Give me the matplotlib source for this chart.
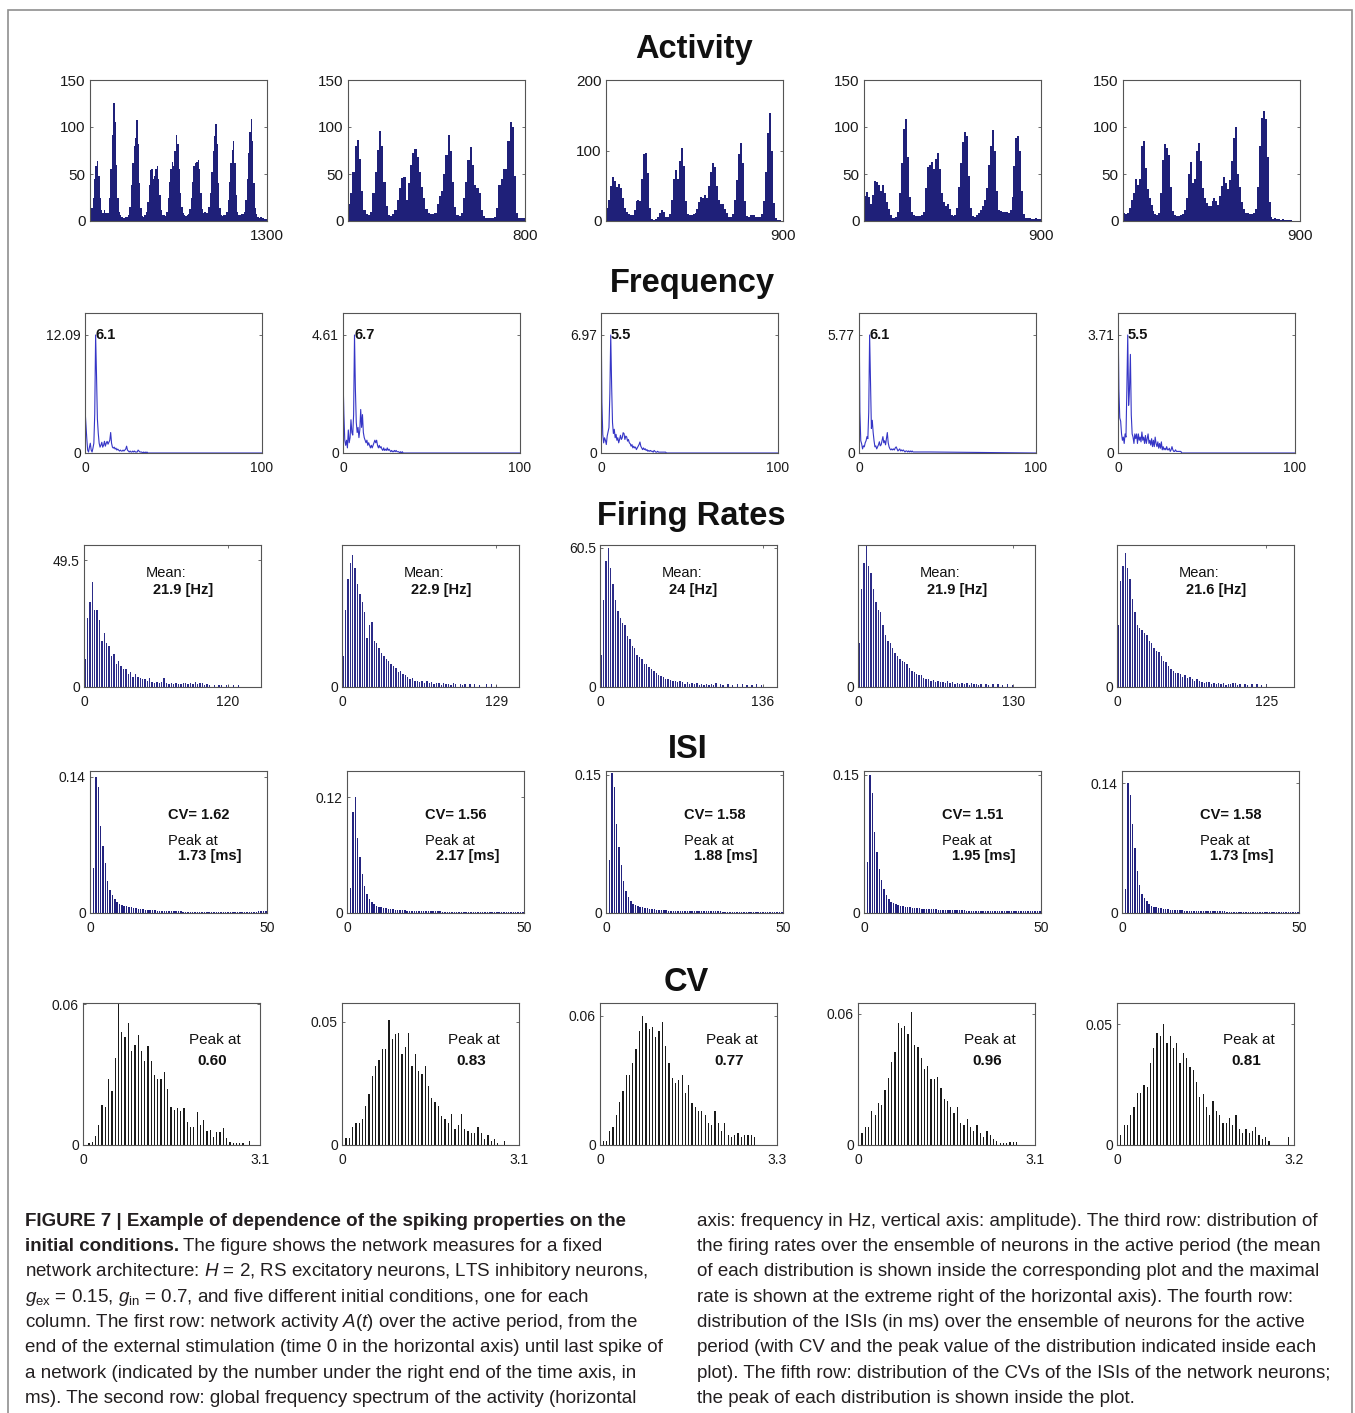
import numpy as np
import matplotlib
matplotlib.use("Agg")
import matplotlib.pyplot as plt
from matplotlib.patches import Rectangle

W, H = 1355, 1413
plt.rcParams['font.family'] = ['Liberation Sans', 'DejaVu Sans']
plt.rcParams['mathtext.fontset'] = 'custom'
plt.rcParams['mathtext.rm'] = 'Liberation Sans'
plt.rcParams['mathtext.it'] = 'Liberation Sans:italic'
plt.rcParams['mathtext.bf'] = 'Liberation Sans:bold'

# ---------------- DATA ----------------
TITLES = ["Activity", "Frequency", "Firing Rates", "ISI", "CV"]

# Row 1: network activity (10 ms bins)
ACT_XMAX = [1300, 800, 900, 900, 900]
ACT_YTICKS = [[0, 50, 100, 150], [0, 50, 100, 150], [0, 100, 200], [0, 50, 100, 150], [0, 50, 100, 150]]
act1 = [13, 14, 25, 45, 58, 64, 48, 25, 12, 9,
        12, 8, 9, 8, 25, 55, 92, 125, 105, 60,
        25, 10, 6, 4, 3, 3, 4, 4, 6, 15,
        38, 62, 80, 88, 107, 82, 40, 14, 5, 4,
        6, 10, 20, 38, 54, 55, 45, 48, 55, 58,
        45, 28, 12, 6, 6, 5, 10, 24, 42, 55,
        63, 58, 75, 92, 82, 55, 30, 15, 9, 6,
        5, 6, 7, 13, 25, 42, 58, 62, 63, 65,
        55, 30, 13, 9, 10, 8, 9, 15, 30, 52,
        75, 90, 103, 82, 40, 14, 6, 5, 6, 6,
        10, 22, 42, 62, 76, 85, 62, 28, 10, 6,
        6, 7, 7, 10, 22, 45, 72, 95, 108, 85,
        40, 14, 7, 4, 3, 4, 3, 3, 2, 2]
act2 = [18, 30, 52, 80, 86, 66, 32, 12, 7, 6,
        10, 30, 52, 76, 96, 80, 42, 16, 6, 5,
        7, 12, 22, 35, 46, 47, 22, 40, 60, 72,
        77, 68, 52, 36, 24, 13, 8, 7, 7, 9,
        18, 27, 32, 50, 70, 92, 75, 42, 15, 6,
        5, 8, 25, 42, 65, 79, 60, 38, 35, 30,
        12, 5, 3, 3, 3, 3, 4, 14, 38, 45,
        55, 55, 85, 105, 100, 48, 8, 3, 3, 3]
act3 = [18, 30, 50, 63, 57, 48, 53, 47, 33, 18,
        13, 10, 9, 8, 16, 28, 30, 28, 60, 95,
        97, 68, 18, 3, 1, 3, 6, 11, 15, 13,
        6, 6, 10, 30, 60, 73, 60, 85, 104, 78,
        28, 10, 8, 9, 10, 11, 17, 27, 34, 32,
        37, 33, 50, 70, 82, 77, 50, 30, 24, 24,
        17, 11, 6, 6, 10, 30, 58, 95, 110, 82,
        28, 7, 6, 8, 8, 8, 6, 6, 5, 10,
        28, 70, 125, 153, 100, 25, 4, 1, 1, 0]
act4 = [27, 31, 26, 18, 28, 43, 42, 38, 32, 38,
        30, 20, 13, 6, 3, 3, 4, 10, 30, 62,
        98, 109, 68, 26, 10, 6, 5, 5, 5, 6,
        10, 35, 57, 60, 63, 55, 66, 72, 55, 30,
        20, 16, 18, 13, 6, 5, 6, 14, 36, 62,
        84, 95, 90, 48, 14, 5, 4, 6, 9, 12,
        16, 22, 35, 60, 80, 97, 75, 32, 12, 11,
        10, 10, 10, 9, 12, 26, 58, 88, 90, 75,
        32, 7, 3, 3, 3, 2, 2, 3, 2, 2]
act5 = [9, 7, 9, 14, 22, 30, 45, 38, 45, 80,
        85, 56, 34, 24, 17, 11, 7, 6, 8, 30,
        65, 82, 78, 70, 36, 11, 6, 5, 5, 6,
        7, 12, 25, 50, 63, 40, 45, 74, 83, 64,
        35, 24, 19, 16, 16, 21, 25, 21, 17, 27,
        37, 47, 40, 34, 44, 64, 88, 100, 50, 36,
        20, 13, 9, 8, 7, 7, 9, 13, 36, 80,
        110, 117, 108, 68, 20, 4, 2, 3, 2, 2,
        1, 2, 1, 1, 1, 1, 0, 0, 0, 0]
ACTIVITY = [act1, act2, act3, act4, act5]

# Row 2: frequency spectra (0.5 Hz grid up to 40 Hz, last value at 100 Hz)
FREQ_MAX_LABEL = ["12.09", "4.61", "6.97", "5.77", "3.71"]
FREQ_MAX = [12.09, 4.61, 6.97, 5.77, 3.71]
FREQ_PEAK = [6.1, 6.7, 5.5, 6.1, 5.5]
FREQ_PEAK_LABEL = ["6.1", "6.7", "5.5", "6.1", "5.5"]
spec1 = [4.5, 3.0, 1.5, 0.3, 0.1, 0.6, 1.0, 0.3, 0.1, 0.5,
         1.0, 4.0, 12.09, 8.0, 3.5, 2.0, 1.0, 0.6, 0.8, 1.1,
         0.6, 0.8, 1.2, 0.7, 1.0, 1.2, 0.9, 1.1, 1.3, 2.1,
         1.0, 0.6, 0.5, 0.6, 0.4, 0.5, 0.3, 0.4, 0.3, 0.2,
         0.3, 0.2, 0.2, 0.3, 0.2, 0.3, 0.4, 0.7, 0.3, 0.2,
         0.1, 0.2, 0.1, 0.1, 0.2, 0.1, 0.2, 0.1, 0.1, 0.1,
         0.3, 0.2, 0.1, 0.1, 0.1, 0.0, 0.1, 0.0, 0.1, 0.0,
         0.1, 0.0, 0.0, 0.0, 0.0, 0.0, 0.0, 0.0, 0.0, 0.0,
         0.0, 0.0]
spec2 = [3.0, 1.5, 0.5, 0.3, 0.5, 0.2, 0.9, 0.4, 0.6, 1.3,
         0.8, 0.7, 1.5, 4.61, 2.5, 1.2, 0.8, 1.0, 0.6, 0.9,
         1.7, 1.0, 1.5, 0.8, 0.6, 0.5, 0.4, 0.5, 0.3, 0.4,
         0.3, 0.2, 0.3, 0.2, 0.3, 0.4, 0.5, 0.4, 0.5, 0.3,
         0.2, 0.3, 0.2, 0.25, 0.15, 0.1, 0.2, 0.1, 0.15, 0.1,
         0.2, 0.1, 0.15, 0.1, 0.05, 0.1, 0.05, 0.05, 0.1, 0.05,
         0.1, 0.05, 0.05, 0.05, 0.0, 0.05, 0.0, 0.05, 0.0, 0.0,
         0.0, 0.0, 0.0, 0.0, 0.0, 0.0, 0.0, 0.0, 0.0, 0.0,
         0.0, 0.0]
spec3 = [9.0, 3.0, 1.1, 0.6, 0.9, 0.75, 0.5, 1.0, 1.25, 1.5,
         3.5, 6.97, 4.0, 1.8, 1.15, 1.4, 0.9, 1.1, 0.75, 0.9,
         0.6, 0.8, 1.05, 0.8, 0.9, 1.2, 1.15, 0.8, 1.0, 0.95,
         0.7, 0.8, 0.6, 0.55, 0.4, 0.5, 0.3, 0.4, 0.3, 0.35,
         0.2, 0.3, 0.4, 0.5, 0.65, 0.4, 0.3, 0.2, 0.3, 0.2,
         0.25, 0.15, 0.2, 0.1, 0.15, 0.1, 0.15, 0.1, 0.1, 0.05,
         0.15, 0.1, 0.05, 0.05, 0.1, 0.05, 0.05, 0.05, 0.05, 0.05,
         0.05, 0.05, 0.05, 0.05, 0.0, 0.0, 0.0, 0.0, 0.0, 0.0,
         0.0, 0.0]
spec4 = [7.5, 2.0, 0.6, 0.45, 0.2, 0.35, 0.3, 0.5, 0.6, 0.8,
         0.7, 2.0, 5.77, 3.5, 1.2, 1.6, 1.0, 0.6, 0.3, 0.35,
         0.2, 0.3, 0.4, 0.55, 0.35, 0.4, 0.6, 0.8, 0.5, 0.6,
         0.4, 0.7, 1.0, 0.5, 0.3, 0.2, 0.15, 0.2, 0.15, 0.2,
         0.15, 0.25, 0.3, 0.2, 0.1, 0.15, 0.2, 0.1, 0.15, 0.1,
         0.15, 0.1, 0.05, 0.1, 0.1, 0.05, 0.1, 0.05, 0.1, 0.05,
         0.1, 0.05, 0.05, 0.05, 0.05, 0.05, 0.05, 0.05, 0.05, 0.05,
         0.05, 0.05, 0.05, 0.05, 0.05, 0.05, 0.05, 0.05, 0.05, 0.05,
         0.05, 0.0]
spec5 = [4.5, 2.0, 1.1, 1.0, 0.6, 0.4, 0.5, 0.3, 0.6, 0.5,
         2.0, 3.71, 1.5, 2.0, 3.1, 1.2, 0.6, 0.5, 0.3, 0.6,
         0.45, 0.6, 0.3, 0.6, 0.4, 0.5, 0.35, 0.66, 0.4, 0.5,
         0.3, 0.55, 0.3, 0.45, 0.6, 0.3, 0.4, 0.25, 0.45, 0.2,
         0.4, 0.2, 0.5, 0.3, 0.2, 0.35, 0.15, 0.3, 0.15, 0.35,
         0.1, 0.2, 0.1, 0.15, 0.1, 0.2, 0.1, 0.1, 0.15, 0.05,
         0.1, 0.2, 0.1, 0.05, 0.05, 0.1, 0.05, 0.05, 0.05, 0.05,
         0.05, 0.05, 0.0, 0.0, 0.0, 0.0, 0.0, 0.0, 0.0, 0.0,
         0.0, 0.0]
SPECTRA = [spec1, spec2, spec3, spec4, spec5]

# Row 3: firing-rate histograms (2 Hz bins)
RATE_XMAX = [120, 129, 136, 130, 125]
RATE_MAX_LABEL = ["49.5", None, "60.5", None, None]
RATE_MAX = [49.5, None, 60.5, None, None]
RATE_MEAN = ["21.9 [Hz]", "22.9 [Hz]", "24 [Hz]", "21.9 [Hz]", "21.6 [Hz]"]
rate1 = [11, 27, 33, 41, 30, 30, 26, 18, 21, 17,
         16, 12, 13, 9, 10, 8, 7, 7, 5, 6,
         4, 5, 4, 3.5, 3, 3, 2.5, 3.5, 2, 1.5,
         2, 1.5, 2, 3.5, 1.5, 1, 1.5, 1, 1.5, 1.2,
         1, 1.5, 1.5, 1, 1.5, 1, 2, 1.2, 1.5, 1.5,
         0.8, 1, 0.9, 0, 0.8, 0, 0.8, 0.9, 0, 0.6,
         0.7, 0, 0.6, 0, 0.6]
rate2 = [12, 30, 42, 48, 51, 46, 40, 36, 33, 29,
         19, 24, 25, 18, 17, 15, 13, 12, 11, 10,
         9, 8, 7.5, 6, 6.3, 5, 4.5, 4, 3, 3.5,
         2.5, 2.4, 2, 2.5, 1.5, 2.4, 1.5, 2, 1.2, 1.6,
         1.6, 0.8, 1.6, 1, 1.2, 0.8, 1.6, 1, 0, 1.2,
         0.8, 1.3, 0, 1, 0, 1.3, 0, 0.8, 0, 0,
         1.3, 0, 1.3, 0, 0.8]
rate3 = [14, 38, 55, 60.5, 52, 45, 38, 33, 30, 28,
         27, 22, 21, 18, 17, 14, 13, 12, 10, 9.8,
         8.5, 8, 7, 6, 5.3, 5, 4.5, 3.5, 3.6, 3,
         2.5, 2.8, 2, 2.4, 2.1, 1.5, 2, 1.2, 1.8, 1.2,
         1.8, 1, 1.5, 1, 1.5, 0.8, 1.4, 1, 1.8, 0,
         1.2, 1, 0, 1.5, 0, 1, 0, 1.2, 0, 1.2,
         0, 0.8, 0, 1, 0, 1.2, 0, 0.8]
rate4 = [17, 38, 48, 55, 47, 44, 38, 33, 30, 29,
         24, 20, 18, 17, 15, 13, 12, 11, 10, 9.5,
         9, 7.5, 6.3, 6, 5, 4.7, 4.5, 3.5, 3, 3.2,
         2.5, 2.8, 2, 2.4, 1.8, 2, 1.5, 2.2, 1.5, 1.9,
         1.2, 1.6, 1, 1.5, 1.2, 1.6, 0.8, 1.6, 1, 1.2,
         0.8, 1.3, 0, 1, 0.8, 0, 1.3, 0, 1.3, 0,
         0.8, 0, 1, 0, 0.8]
rate5 = [24, 41, 47, 52, 46, 42, 34, 29, 24, 23,
         22, 21, 20, 18, 17, 15, 14, 13.4, 12, 10,
         9.5, 8, 7, 6.3, 5.5, 5.5, 5, 4, 4.5, 3.5,
         4, 3, 2.5, 3, 2.4, 2, 1.5, 2, 1.9, 1.2,
         1.6, 1, 1.5, 1.2, 1.6, 0.8, 1.2, 1, 1.5, 1.6,
         0.8, 1.2, 0, 1, 0.8, 0, 1.2, 0, 1.3, 0,
         0.8, 0, 1.3]
RATES = [rate1, rate2, rate3, rate4, rate5]

# Row 4: ISI distributions (bins of 2/3 ms, 0-50 ms)
ISI_MAX_LABEL = ["0.14", "0.12", "0.15", "0.15", "0.14"]
ISI_MAX = [0.14, 0.12, 0.15, 0.15, 0.14]
ISI_CV = ["CV= 1.62", "CV= 1.56", "CV= 1.58", "CV= 1.51", "CV= 1.58"]
ISI_PEAK = ["1.73 [ms]", "2.17 [ms]", "1.88 [ms]", "1.95 [ms]", "1.73 [ms]"]
isi1 = [0, 0.046, 0.14, 0.13, 0.089, 0.069, 0.051, 0.033, 0.024, 0.018,
        0.014, 0.011, 0.009, 0.008, 0.0075, 0.007, 0.0065, 0.006, 0.0055, 0.005,
        0.0045, 0.004, 0.0038, 0.0035, 0.0032, 0.003, 0.0028, 0.0026, 0.0024, 0.0022,
        0.002, 0.002, 0.0019, 0.0018, 0.0018, 0.0017, 0.0017, 0.0016, 0.0016, 0.0015,
        0.0015, 0.0015, 0.0014, 0.0014, 0.0014, 0.0013, 0.0013, 0.0013, 0.0013, 0.0012,
        0.0012, 0.0012, 0.0012, 0.0012, 0.0011, 0.0011, 0.0012, 0.0011, 0.0011, 0.0011,
        0.0012, 0.0011, 0.0011, 0.0012, 0.0013, 0.0012, 0.0013, 0.0014, 0.0015, 0.0014,
        0.0015, 0.0016, 0.0017, 0.0016, 0.0018]
isi2 = [0, 0.026, 0.105, 0.12, 0.078, 0.058, 0.04, 0.028, 0.02, 0.015,
        0.011, 0.009, 0.0075, 0.0065, 0.006, 0.0055, 0.005, 0.0045, 0.004, 0.0037,
        0.0034, 0.0032, 0.003, 0.0028, 0.0026, 0.0025, 0.0024, 0.0023, 0.0022, 0.0021,
        0.002, 0.0019, 0.0019, 0.0018, 0.0018, 0.0017, 0.0017, 0.0016, 0.0016, 0.0016,
        0.0015, 0.0015, 0.0015, 0.0014, 0.0014, 0.0014, 0.0014, 0.0013, 0.0013, 0.0013,
        0.0013, 0.0013, 0.0012, 0.0012, 0.0012, 0.0012, 0.0012, 0.0012, 0.0011, 0.0011,
        0.0011, 0.0011, 0.0011, 0.0011, 0.0011, 0.001, 0.001, 0.001, 0.001, 0.001,
        0.001, 0.001, 0.001, 0.001, 0.001]
isi3 = [0, 0.057, 0.152, 0.137, 0.097, 0.072, 0.052, 0.035, 0.024, 0.017,
        0.013, 0.01, 0.009, 0.008, 0.007, 0.006, 0.0055, 0.005, 0.0046, 0.0042,
        0.0038, 0.0036, 0.0034, 0.0032, 0.003, 0.0028, 0.0027, 0.0026, 0.0025, 0.0024,
        0.0023, 0.0022, 0.0022, 0.0021, 0.0021, 0.002, 0.002, 0.002, 0.0019, 0.0019,
        0.0019, 0.0018, 0.0018, 0.0018, 0.0018, 0.0017, 0.0017, 0.0017, 0.0017, 0.0016,
        0.0016, 0.0016, 0.0016, 0.0016, 0.0015, 0.0015, 0.0015, 0.0015, 0.0015, 0.0015,
        0.0014, 0.0014, 0.0014, 0.0014, 0.0014, 0.0014, 0.0014, 0.0013, 0.0013, 0.0013,
        0.0013, 0.0013, 0.0013, 0.0013, 0.0013]
isi4 = [0, 0.055, 0.15, 0.13, 0.088, 0.066, 0.048, 0.036, 0.026, 0.019,
        0.015, 0.012, 0.011, 0.01, 0.009, 0.008, 0.0075, 0.007, 0.0067, 0.0062,
        0.0058, 0.0055, 0.0052, 0.005, 0.0048, 0.0046, 0.0045, 0.0043, 0.0041, 0.004,
        0.0038, 0.0037, 0.0036, 0.0035, 0.0034, 0.0033, 0.0032, 0.0031, 0.003, 0.003,
        0.0029, 0.0028, 0.0028, 0.0027, 0.0027, 0.0026, 0.0026, 0.0025, 0.0025, 0.0024,
        0.0024, 0.0024, 0.0023, 0.0023, 0.0023, 0.0022, 0.0022, 0.0022, 0.0021, 0.0021,
        0.0021, 0.0021, 0.002, 0.002, 0.002, 0.002, 0.002, 0.0019, 0.0019, 0.0019,
        0.0019, 0.0019, 0.0018, 0.0018, 0.0018]
isi5 = [0, 0.026, 0.14, 0.127, 0.096, 0.07, 0.045, 0.03, 0.021, 0.016,
        0.013, 0.01, 0.008, 0.007, 0.006, 0.0055, 0.005, 0.0045, 0.004, 0.0038,
        0.0035, 0.0033, 0.0031, 0.003, 0.0028, 0.0027, 0.0026, 0.0025, 0.0024, 0.0023,
        0.0022, 0.0022, 0.0021, 0.002, 0.002, 0.002, 0.0019, 0.0019, 0.0018, 0.0018,
        0.0018, 0.0017, 0.0017, 0.0017, 0.0016, 0.0016, 0.0016, 0.0016, 0.0015, 0.0015,
        0.0015, 0.0015, 0.0015, 0.0014, 0.0014, 0.0014, 0.0014, 0.0014, 0.0014, 0.0013,
        0.0013, 0.0013, 0.0013, 0.0013, 0.0013, 0.0013, 0.0012, 0.0012, 0.0012, 0.0012,
        0.0012, 0.0012, 0.0012, 0.0012, 0.0012]
ISI = [isi1, isi2, isi3, isi4, isi5]

# Row 5: CV distributions
CV_XMAX = [3.1, 3.1, 3.3, 3.1, 3.2]
CV_XMAX_LABEL = ["3.1", "3.1", "3.3", "3.1", "3.2"]
CV_MAX_LABEL = ["0.06", "0.05", "0.06", "0.06", "0.05"]
CV_MAX = [0.06, 0.05, 0.06, 0.06, 0.05]
CV_PEAK = ["0.60", "0.83", "0.77", "0.96", "0.81"]
CV_BIN_START = [0.105, 0.07, 0.06, 0.07, 0.07]
CV_BIN_STEP = [0.0574, 0.0578, 0.0613, 0.0576, 0.0595]
cv1 = [0.001, 0.0013, 0.0038, 0.0085, 0.017, 0.016, 0.028, 0.023, 0.037, 0.06,
       0.048, 0.046, 0.052, 0.040, 0.0425, 0.047, 0.040, 0.036, 0.042, 0.036,
       0.030, 0.028, 0.028, 0.031, 0.024, 0.016, 0.015, 0.0156, 0.0145, 0.0156,
       0.010, 0.0078, 0.0078, 0.014, 0.0085, 0.0106, 0.006, 0.0064, 0.0035, 0.0057,
       0.0057, 0.0071, 0.0028, 0.0014, 0.001, 0.001, 0.001, 0.001, 0, 0.0018]
cv2 = [0.0028, 0.0028, 0.0074, 0.009, 0.009, 0.0107, 0.0157, 0.0206, 0.028, 0.032,
       0.0346, 0.039, 0.039, 0.0507, 0.043, 0.045, 0.0454, 0.037, 0.040, 0.0454,
       0.032, 0.037, 0.030, 0.029, 0.032, 0.024, 0.019, 0.0173, 0.0157, 0.0116,
       0.0107, 0.009, 0.0124, 0.0066, 0.0083, 0.0124, 0.0066, 0.0058, 0.005, 0.005,
       0.0074, 0.005, 0.0025, 0.0041, 0.0017, 0.0025, 0.0008, 0, 0.0017]
cv3 = [0.0019, 0.0019, 0.0065, 0.0084, 0.014, 0.020, 0.025, 0.0325, 0.0325, 0.038,
       0.0446, 0.053, 0.060, 0.0567, 0.054, 0.055, 0.050, 0.053, 0.057, 0.046,
       0.038, 0.031, 0.029, 0.030, 0.0325, 0.024, 0.028, 0.0195, 0.0176, 0.0158,
       0.0158, 0.014, 0.0102, 0.0093, 0.0158, 0.0102, 0.0065, 0.0102, 0.0046, 0.0037,
       0.0046, 0.0056, 0.0037, 0.0046, 0.0046, 0.0046, 0.0037]
cv4 = [0.0055, 0.0083, 0.0083, 0.0157, 0.0138, 0.0194, 0.0185, 0.025, 0.0305, 0.0378,
       0.0425, 0.056, 0.0535, 0.0545, 0.051, 0.061, 0.046, 0.045, 0.040, 0.035,
       0.036, 0.030, 0.030, 0.031, 0.026, 0.021, 0.020, 0.0175, 0.0148, 0.0175,
       0.0102, 0.0092, 0.012, 0.0083, 0.0065, 0.0092, 0.0055, 0.0037, 0.0065, 0.0046,
       0.0028, 0.0018, 0.0009, 0.0009, 0.0009, 0.0015, 0.0015, 0.0015]
cv5 = [0.0042, 0.0083, 0.0083, 0.0125, 0.0158, 0.0216, 0.0216, 0.025, 0.024, 0.034,
       0.040, 0.0465, 0.045, 0.050, 0.042, 0.045, 0.040, 0.042, 0.034, 0.038,
       0.036, 0.0324, 0.031, 0.026, 0.020, 0.021, 0.0158, 0.0125, 0.0183, 0.014,
       0.0125, 0.009, 0.009, 0.011, 0.0083, 0.0125, 0.0066, 0.005, 0.0066, 0.005,
       0.0058, 0.0075, 0.0042, 0.0025, 0.0033, 0.0017, 0, 0, 0, 0, 0, 0.0033]
CVS = [cv1, cv2, cv3, cv4, cv5]

CAPTION_LEFT = [
    ("FIGURE 7 | Example of dependence of the spiking properties on the", ""),
    ("initial conditions.", "The figure shows the network measures for a fixed"),
    ("", "network architecture: $H$ = 2, RS excitatory neurons, LTS inhibitory neurons,"),
    ("", r"$g_{\mathrm{ex}}$ = 0.15, $g_{\mathrm{in}}$ = 0.7, and five different initial conditions, one for each"),
    ("", "column. The first row: network activity $A$($t$) over the active period, from the"),
    ("", "end of the external stimulation (time 0 in the horizontal axis) until last spike of"),
    ("", "a network (indicated by the number under the right end of the time axis, in"),
    ("", "ms). The second row: global frequency spectrum of the activity (horizontal"),
]
CAPTION_RIGHT = [
    "axis: frequency in Hz, vertical axis: amplitude). The third row: distribution of",
    "the firing rates over the ensemble of neurons in the active period (the mean",
    "of each distribution is shown inside the corresponding plot and the maximal",
    "rate is shown at the extreme right of the horizontal axis). The fourth row:",
    "distribution of the ISIs (in ms) over the ensemble of neurons for the active",
    "period (with CV and the peak value of the distribution indicated inside each",
    "plot). The fifth row: distribution of the CVs of the ISIs of the network neurons;",
    "the peak of each distribution is shown inside the plot.",
]

# ---------------- LAYOUT / STYLE ----------------
NAVY = '#1f2079'
SPEC_BLUE = '#3535c6'
SPINE = '#555555'
TXT = '#1a1a1a'

ROW_LEFTS = [[90, 348, 606, 864, 1123],
             [85, 343, 601, 859, 1118],
             [84, 342, 600, 858, 1117],
             [90, 347, 606, 864, 1122],
             [83, 342, 600, 858, 1117]]
ROW_TB = [(80, 221), (313, 453), (545, 687), (771, 913), (1003, 1145)]
AX_W = 177
TITLE_POS = [(694, 58), (692, 292), (691, 525), (688, 758), (686, 991)]

fig = plt.figure(figsize=(W / 100, H / 100), dpi=100)


def make_ax(r, c):
    l = ROW_LEFTS[r][c]
    t, b = ROW_TB[r]
    ax = fig.add_axes([l / W, 1 - b / H, AX_W / W, (b - t) / H])
    for s in ax.spines.values():
        s.set_color(SPINE)
        s.set_linewidth(0.8)
    fs = 11 if r == 0 else 10
    ax.tick_params(direction='in', length=2.5, width=0.6, color=SPINE,
                   labelsize=fs, labelcolor=TXT, top=True, right=True, pad=3)
    ax.tick_params(axis='x', pad=6)
    return ax


for r, (title, (tx, ty)) in enumerate(zip(TITLES, TITLE_POS)):
    fig.text(tx / W, 1 - ty / H, title, ha='center', va='baseline',
             fontsize=23.5, fontweight='bold', color='#111111')

for c in range(5):
    # Activity
    ax = make_ax(0, c)
    vals = np.array(ACTIVITY[c], dtype=float)
    edges = np.arange(len(vals) + 1) * 10.0
    ax.stairs(vals, edges, fill=True, color=NAVY, linewidth=0)
    ax.set_xlim(0, ACT_XMAX[c])
    ax.set_ylim(0, ACT_YTICKS[c][-1])
    ax.set_xticks([ACT_XMAX[c]])
    ax.set_xticklabels([str(ACT_XMAX[c])])
    ax.set_yticks(ACT_YTICKS[c])

    # Frequency
    ax = make_ax(1, c)
    sv = np.array(SPECTRA[c], dtype=float)
    fx = np.append(np.arange(len(sv) - 1) * 0.5, 100.0)
    ax.plot(fx, sv, color=SPEC_BLUE, lw=0.8)
    ytop = FREQ_MAX[c] / 0.843
    ax.set_xlim(0, 100)
    ax.set_ylim(0, ytop)
    ax.set_xticks([0, 100])
    ax.set_xticklabels(['0', '100'])
    ax.set_yticks([0, FREQ_MAX[c]])
    ax.set_yticklabels(['0', FREQ_MAX_LABEL[c]])
    ax.text(FREQ_PEAK[c], FREQ_MAX[c], FREQ_PEAK_LABEL[c], ha='left', va='center',
            fontsize=10.5, fontweight='bold', color='#111111')

    # Firing rates
    ax = make_ax(2, c)
    rv = np.array(RATES[c], dtype=float)
    rx = 1 + 2 * np.arange(len(rv))
    ax.bar(rx, rv, width=1.15, color='#2c2c88', linewidth=0)
    ax.set_xlim(0, 148)
    ytops = [55.4, 55, 61.8, 55, 55]
    ax.set_ylim(0, ytops[c])
    ax.set_xticks([0, RATE_XMAX[c]])
    ax.set_xticklabels(['0', str(RATE_XMAX[c])])
    if RATE_MAX[c] is not None:
        ax.set_yticks([0, RATE_MAX[c]])
        ax.set_yticklabels(['0', RATE_MAX_LABEL[c]])
    else:
        ax.set_yticks([0])
        ax.set_yticklabels(['0'])
    ax.text(0.35, 0.80, "Mean:", transform=ax.transAxes, fontsize=10.5,
            ha='left', va='center', color='#111111')
    ax.text(0.39, 0.68, RATE_MEAN[c], transform=ax.transAxes, fontsize=10.5,
            fontweight='bold', ha='left', va='center', color='#111111')

    # ISI
    ax = make_ax(3, c)
    iv = np.array(ISI[c], dtype=float)
    ix = (np.arange(len(iv)) + 0.5) * (2.0 / 3.0)
    ax.bar(ix, iv, width=0.42, color='#23237f', linewidth=0)
    ytops = [0.146, 0.147, 0.154, 0.154, 0.153]
    ax.set_xlim(0, 50)
    ax.set_ylim(0, ytops[c])
    ax.set_xticks([0, 50])
    ax.set_xticklabels(['0', '50'])
    ax.set_yticks([0, ISI_MAX[c]])
    ax.set_yticklabels(['0', ISI_MAX_LABEL[c]])
    ax.text(0.44, 0.69, ISI_CV[c], transform=ax.transAxes, fontsize=10.5,
            fontweight='bold', ha='left', va='center', color='#111111')
    ax.text(0.44, 0.51, "Peak at", transform=ax.transAxes, fontsize=10.5,
            ha='left', va='center', color='#111111')
    ax.text(0.50, 0.40, ISI_PEAK[c], transform=ax.transAxes, fontsize=10.5,
            fontweight='bold', ha='left', va='center', color='#111111')

    # CV
    ax = make_ax(4, c)
    cvv = np.array(CVS[c], dtype=float)
    cx = CV_BIN_START[c] + CV_BIN_STEP[c] * np.arange(len(cvv))
    ax.bar(cx, cvv, width=CV_BIN_STEP[c] * 0.38, color='#1a1a1a', linewidth=0)
    ytops = [0.0605, 0.0577, 0.066, 0.065, 0.0587]
    ax.set_xlim(0, CV_XMAX[c])
    ax.set_ylim(0, ytops[c])
    ax.set_xticks([0, CV_XMAX[c]])
    ax.set_xticklabels(['0', CV_XMAX_LABEL[c]])
    ax.set_yticks([0, CV_MAX[c]])
    ax.set_yticklabels(['0', CV_MAX_LABEL[c]])
    ax.text(0.60, 0.74, "Peak at", transform=ax.transAxes, fontsize=11,
            ha='left', va='center', color='#111111')
    ax.text(0.645, 0.59, CV_PEAK[c], transform=ax.transAxes, fontsize=11,
            fontweight='bold', ha='left', va='center', color='#111111')

# ---------------- CAPTION ----------------
renderer = fig.canvas.get_renderer()
probe = fig.text(0, 0, CAPTION_LEFT[5][1], fontsize=12)
pw = probe.get_window_extent(renderer=renderer).width
probe.remove()
cap_fs = 12 * 640.0 / pw
CAP_COLOR = '#231f20'
BASE0, STEP = 1225.5, 25.4
for i, (bold, reg) in enumerate(CAPTION_LEFT):
    y = 1 - (BASE0 + STEP * i) / H
    x = 25 / W
    if bold:
        t = fig.text(x, y, bold, fontsize=cap_fs, fontweight='bold', color=CAP_COLOR,
                     ha='left', va='baseline')
        bb = t.get_window_extent(renderer=renderer)
        x = (bb.x1 + cap_fs * 0.28) / W
    if reg:
        fig.text(x, y, reg, fontsize=cap_fs, color=CAP_COLOR, ha='left', va='baseline')
for i, line in enumerate(CAPTION_RIGHT):
    y = 1 - (BASE0 + STEP * i) / H
    fig.text(697 / W, y, line, fontsize=cap_fs, color=CAP_COLOR, ha='left', va='baseline')

# outer frame
fig.patches.append(Rectangle((8 / W, -0.05), (1352 - 8) / W, 1.05 - 10 / H,
                             transform=fig.transFigure, fill=False,
                             edgecolor='#8f8f8f', linewidth=1.2))

fig.savefig("out.png", dpi=100, facecolor='white')
